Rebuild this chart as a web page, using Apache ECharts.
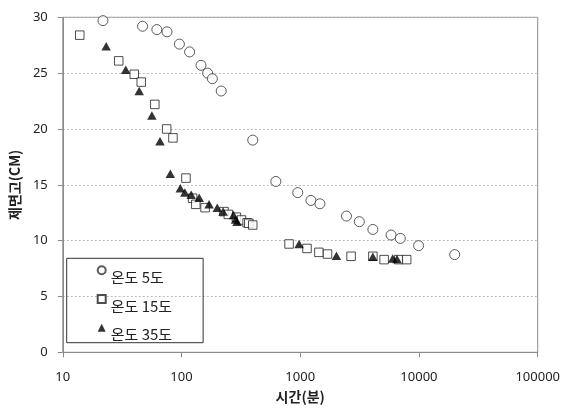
<!DOCTYPE html>
<html>
<head>
<meta charset="utf-8">
<script src="https://cdn.jsdelivr.net/npm/echarts@6/dist/echarts.min.js"></script>
<style>html,body{margin:0;padding:0;background:#fff}#c{width:563px;height:410px}</style>
</head>
<body>
<div id="c"></div>
<script>
const seriesNames = ['온도 5도', '온도 15도', '온도 35도'];
const xTicks = [10, 100, 1000, 10000, 100000];

const t5x = [21.8, 47, 62, 75.5, 96, 117, 146, 166, 182, 216, 398, 623, 953, 1230, 1465, 2450, 3144, 4090, 5820, 6965, 9930, 20000];
const t5y = [29.7, 29.2, 28.9, 28.7, 27.6, 26.9, 25.7, 25.0, 24.5, 23.4, 19.0, 15.3, 14.3, 13.6, 13.3, 12.2, 11.7, 11.0, 10.5, 10.2, 9.55, 8.75];

const t15x = [13.9, 29.6, 40, 45.8, 59.6, 75, 84.7, 109, 124, 132, 158, 228, 248, 290, 320, 357, 369, 398, 805, 1140, 1436, 1697, 2680, 4090, 5090, 6760, 7880];
const t15y = [28.4, 26.1, 24.9, 24.2, 22.2, 20.0, 19.2, 15.6, 13.8, 13.25, 12.95, 12.6, 12.35, 12.1, 11.85, 11.6, 11.55, 11.4, 9.7, 9.3, 8.95, 8.8, 8.6, 8.6, 8.3, 8.3, 8.3];

const t35x = [23.2, 33.9, 44, 56.3, 65.9, 80.5, 97.7, 106.7, 120.7, 141, 170.7, 200, 224, 274, 285, 294, 978, 2018, 4090, 6010, 6530];
const t35y = [27.4, 25.3, 23.4, 21.2, 18.9, 16.0, 14.7, 14.3, 14.1, 13.85, 13.25, 12.95, 12.6, 12.3, 11.9, 11.7, 9.7, 8.65, 8.55, 8.4, 8.35];

const zip = (xs, ys) => xs.map((x, i) => [x, ys[i]]);

const chart = echarts.init(document.getElementById('c'), null, {renderer: 'canvas'});
const txt = '#222';
const font = "'Noto Sans', 'Noto Sans CJK KR', sans-serif";
chart.setOption({
  animation: false,
  backgroundColor: '#fff',
  textStyle: {fontFamily: font},
  grid: {left: 59.3, right: 25.3, top: 17.3, bottom: 57.7, show: true, borderColor: '#8c8c8c', borderWidth: 1, backgroundColor: 'transparent'},
  xAxis: {
    type: 'log', logBase: 10, min: xTicks[0], max: xTicks[xTicks.length - 1],
    name: '시간(분)', nameLocation: 'middle', nameGap: 37,
    nameTextStyle: {fontFamily: "'Noto Sans CJK KR', sans-serif", fontWeight: 'bold', fontSize: 14, color: txt},
    axisLine: {show: true, lineStyle: {color: '#8c8c8c', width: 1}},
    axisTick: {show: true, inside: false, length: 5, lineStyle: {color: '#8c8c8c'}},
    minorTick: {show: false},
    splitLine: {show: false},
    axisLabel: {color: txt, fontSize: 13, margin: 18, formatter: v => String(Math.round(v))}
  },
  yAxis: {
    type: 'value', min: 0, max: 30, interval: 5,
    name: '제면고(CM)', nameLocation: 'middle', nameGap: 36, nameRotate: 90,
    nameTextStyle: {fontFamily: "'Noto Sans CJK KR', sans-serif", fontWeight: 'bold', fontSize: 14, color: txt},
    axisLine: {show: true, lineStyle: {color: '#8c8c8c', width: 1}},
    axisTick: {show: true, inside: false, length: 5, lineStyle: {color: '#8c8c8c'}},
    splitLine: {show: true, lineStyle: {color: '#bdbdbd', type: [2, 2], width: 1}},
    axisLabel: {color: txt, fontSize: 13, margin: 15}
  },
  legend: {
    orient: 'vertical', left: 66.7, top: 258.3,
    padding: [5.5, 31, 0.5, 30],
    itemGap: 7.7, itemWidth: 8, itemHeight: 8,
    borderColor: '#333', borderWidth: 1, borderRadius: 0,
    formatter: name => '{s| }\n{t|' + name + '}',
    textStyle: {
      fontFamily: "'Noto Sans CJK KR', sans-serif", fontSize: 15, color: txt,
      rich: {
        s: {fontSize: 1, lineHeight: 14},
        t: {fontFamily: "'Noto Sans CJK KR', sans-serif", fontSize: 15, color: txt, lineHeight: 12}
      }
    },
    data: [
      {name: seriesNames[0], icon: 'circle'},
      {name: seriesNames[1], icon: 'rect'},
      {name: seriesNames[2], icon: 'triangle'}
    ]
  },
  series: [
    {name: seriesNames[0], type: 'scatter', symbol: 'circle', symbolSize: 10, data: zip(t5x, t5y),
     itemStyle: {color: '#fff', borderColor: '#333', borderWidth: 1}},
    {name: seriesNames[1], type: 'scatter', symbol: 'rect', symbolSize: 8.5, data: zip(t15x, t15y),
     itemStyle: {color: '#fff', borderColor: '#222', borderWidth: 1}},
    {name: seriesNames[2], type: 'scatter', symbol: 'triangle', symbolSize: [9.5, 8.5], data: zip(t35x, t35y),
     itemStyle: {color: '#000', borderColor: '#000', borderWidth: 0}}
  ]
});
</script>
</body>
</html>
